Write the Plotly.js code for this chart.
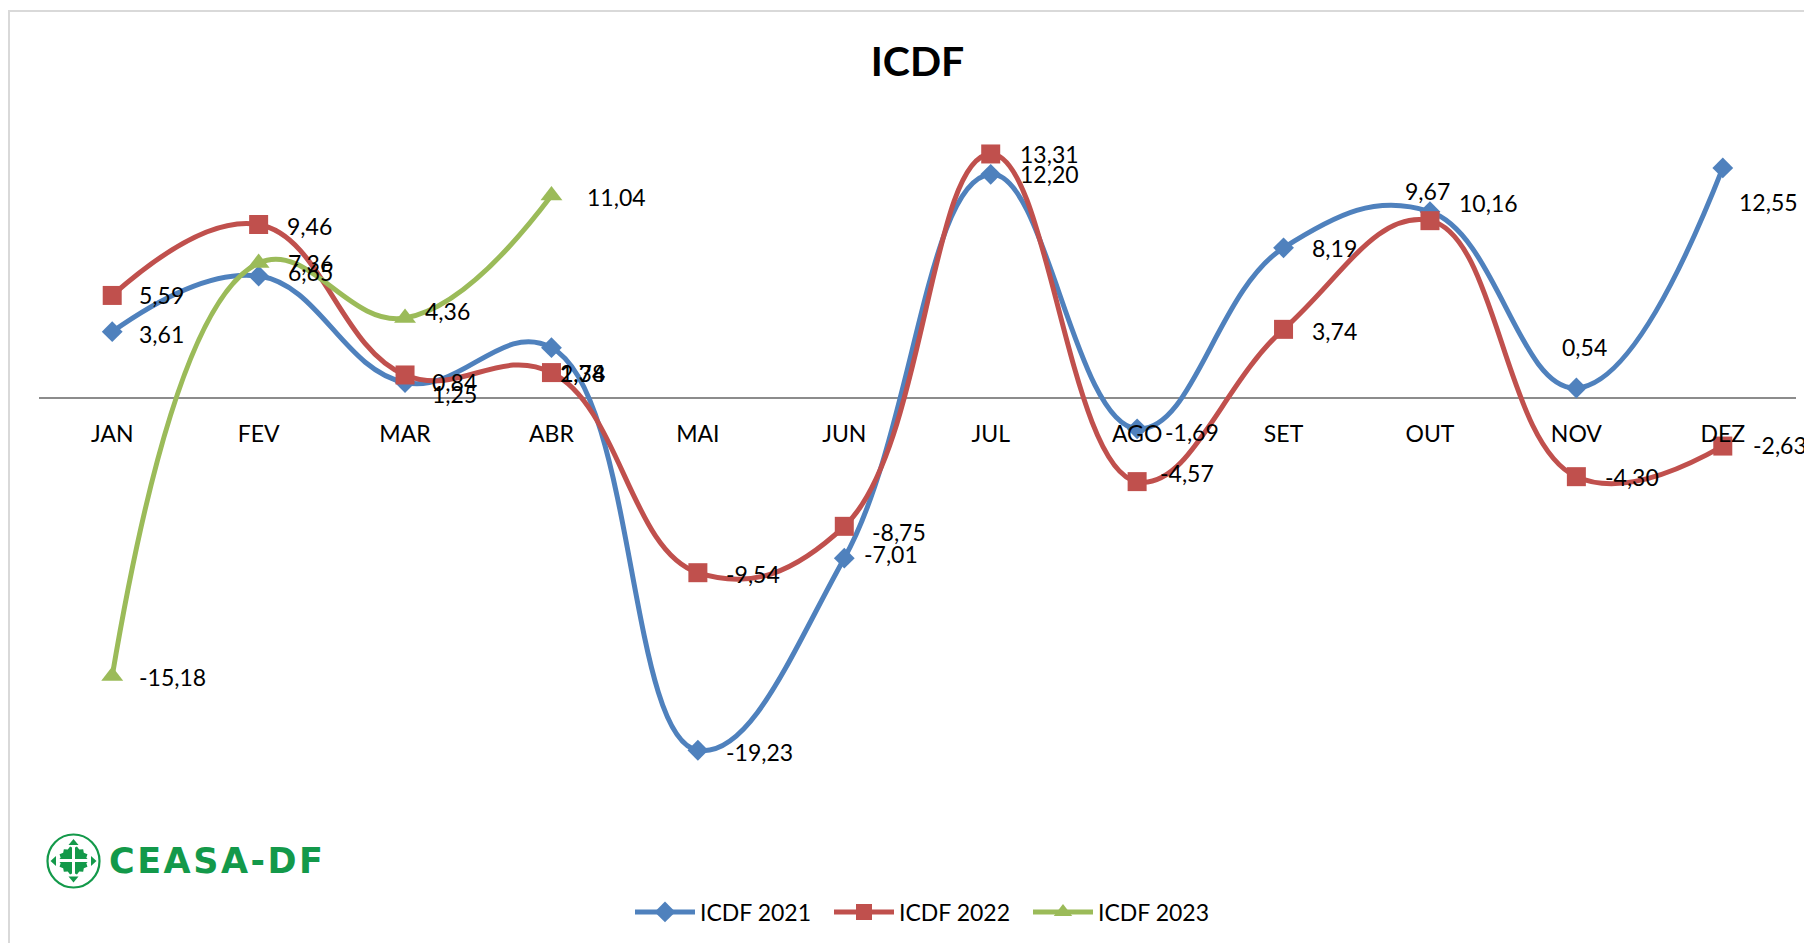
<!DOCTYPE html>
<html>
<head>
<meta charset="utf-8">
<script src="https://cdn.plot.ly/plotly-3.0.1.min.js"></script>
<style>
  html, body { margin: 0; padding: 0; background: #ffffff; }
  #chart { width: 1804px; height: 943px; }
</style>
</head>
<body>
<div id="chart"></div>
<script>
// ---- data ----
const months = ['JAN','FEV','MAR','ABR','MAI','JUN','JUL','AGO','SET','OUT','NOV','DEZ'];
const seriesNames = ['ICDF 2021', 'ICDF 2022', 'ICDF 2023'];
const icdf2021 = [3.61, 6.65, 0.84, 2.74, -19.23, -8.75, 12.20, -1.69, 8.19, 10.16, 0.54, 12.55];
const icdf2022 = [5.59, 9.46, 1.25, 1.38, -9.54, -7.01, 13.31, -4.57, 3.74, 9.67, -4.30, -2.63];
const icdf2023 = [-15.18, 7.36, 4.36, 11.04, null, null, null, null, null, null, null, null];

// ---- label placement (pixel offsets from each point: [right, down]) ----
const offs2021 = [[25,2],[27,-4],[25,0],[7,25],[26,2],[26,-26],[27,0],[26,3],[26,0],[27,-9],[-16,-41],[14,34]];
const offs2022 = [[25,0],[26,1],[25,19],[7,0],[26,1],[18,28],[27,0],[21,-9],[26,2],[-27,-30],[27,0],[28,-1]];
const offs2023 = [[25,1],[27,0],[18,-7],[34,1]];

// ---- styles ----
const colors = ['#4F81BD', '#C0504D', '#9BBB59'];
const symbols = ['diamond', 'square', 'triangle-up'];
const msizes = [16, 19, 19];
const FONT = 'Lato, "Open Sans", "Noto Sans", sans-serif';

const W = 1804, H = 943;
const M = {l: 39, r: 8, t: 123, b: 87};
const yMin = -25, yMax = 15;
const pw = W - M.l - M.r, ph = H - M.t - M.b;
const xp = px => (px - M.l) / pw;
const yp = py => (H - M.b - py) / ph;
const P = (x, y) => xp(x).toFixed(5) + ',' + yp(y).toFixed(5);

const allSeries = [icdf2021, icdf2022, icdf2023];
const allOffs = [offs2021, offs2022, offs2023];

const traces = allSeries.map((vals, k) => ({
  type: 'scatter',
  mode: 'lines+markers',
  name: seriesNames[k],
  x: months,
  y: vals,
  line: {color: colors[k], width: 5, shape: 'spline', smoothing: 1.2},
  marker: {color: colors[k], symbol: symbols[k], size: msizes[k], line: {width: 0}},
  hoverinfo: 'skip',
  connectgaps: false
}));

const fmt = v => v.toFixed(2).replace('.', ',');

const annotations = [];
allSeries.forEach((vals, k) => {
  vals.forEach((v, i) => {
    if (v === null) return;
    const o = allOffs[k][i];
    annotations.push({
      x: months[i], y: v, xref: 'x', yref: 'y',
      text: fmt(v), showarrow: false,
      xanchor: 'left', yanchor: 'middle',
      xshift: o[0], yshift: -o[1],
      font: {family: FONT, size: 23, color: '#000000'}
    });
  });
});

// logo text
annotations.push({
  xref: 'paper', yref: 'paper', x: xp(117), y: yp(861),
  xanchor: 'left', yanchor: 'middle', showarrow: false,
  text: '<b>CEASA-DF</b>',
  font: {family: '"DejaVu Sans", sans-serif', size: 35, color: '#13994A'}
});

// logo shapes
const logoGreen = '#13994A';
const shapes = [];
// chart border
shapes.push({type: 'rect', xref: 'paper', yref: 'paper',
  x0: xp(9), x1: xp(1812), y0: yp(11), y1: yp(955),
  line: {color: '#D9D9D9', width: 2}, fillcolor: 'rgba(0,0,0,0)'});
// ellipse
shapes.push({type: 'circle', xref: 'paper', yref: 'paper',
  x0: xp(47.5), x1: xp(99.5), y0: yp(834.5), y1: yp(887.5),
  line: {color: logoGreen, width: 2.2}, fillcolor: 'rgba(0,0,0,0)'});
// arrows
const tri = (a, b, c) => 'M' + P(a[0], a[1]) + ' L' + P(b[0], b[1]) + ' L' + P(c[0], c[1]) + ' Z';
[
  [[73.5, 839], [68.5, 845], [78.5, 845]],
  [[73.5, 882.5], [68.5, 876.5], [78.5, 876.5]],
  [[50.5, 861], [56, 856], [56, 866]],
  [[96.5, 861], [91, 856], [91, 866]]
].forEach(t => shapes.push({type: 'path', xref: 'paper', yref: 'paper', path: tri(t[0], t[1], t[2]),
  fillcolor: logoGreen, line: {width: 0}}));
// jagged central blob
(function () {
  const cx = 73.5, cy = 860.5, n = 28;
  let d = '';
  for (let i = 0; i < n; i++) {
    const a = (i / n) * 2 * Math.PI;
    const r = (i % 2 === 0) ? 15.5 : 13.2;
    const x = cx + r * Math.cos(a), y = cy + r * 0.93 * Math.sin(a);
    d += (i === 0 ? 'M' : ' L') + P(x, y);
  }
  d += ' Z';
  shapes.push({type: 'path', xref: 'paper', yref: 'paper', path: d, fillcolor: logoGreen, line: {width: 0}});
})();
// white cross
shapes.push({type: 'rect', xref: 'paper', yref: 'paper', x0: xp(72), x1: xp(75), y0: yp(845), y1: yp(876),
  fillcolor: '#ffffff', line: {width: 0}});
shapes.push({type: 'rect', xref: 'paper', yref: 'paper', x0: xp(57), x1: xp(90), y0: yp(859), y1: yp(862),
  fillcolor: '#ffffff', line: {width: 0}});

const layout = {
  width: W, height: H,
  margin: M,
  paper_bgcolor: '#ffffff', plot_bgcolor: '#ffffff',
  font: {family: FONT, color: '#000000'},
  title: {
    text: '<b>ICDF</b>',
    font: {family: FONT, size: 41, color: '#000000'},
    x: 0.5, xref: 'paper', xanchor: 'center',
    y: 1 - 62 / H, yref: 'container', yanchor: 'middle'
  },
  xaxis: {
    type: 'category', range: [-0.5, 11.5],
    anchor: 'free', position: (0 - yMin) / (yMax - yMin),
    showline: false, showgrid: false, zeroline: false,
    ticks: 'outside', ticklen: 16, tickcolor: 'rgba(0,0,0,0)',
    tickfont: {family: FONT, size: 23, color: '#000000'},
    fixedrange: true
  },
  yaxis: {
    range: [yMin, yMax],
    showgrid: false, showline: false, showticklabels: false, ticks: '',
    zeroline: true, zerolinecolor: '#8C8C8C', zerolinewidth: 1.5,
    fixedrange: true
  },
  showlegend: true,
  legend: {
    orientation: 'h', x: xp(630), xanchor: 'left',
    y: yp(912), yanchor: 'middle',
    itemwidth: 60,
    entrywidth: 124, entrywidthmode: 'pixels',
    font: {family: FONT, size: 23, color: '#000000'},
    bgcolor: 'rgba(0,0,0,0)'
  },
  annotations: annotations,
  shapes: shapes
};

Plotly.newPlot('chart', traces, layout, {staticPlot: true, displayModeBar: false}).then(() => {
  document.querySelectorAll('.annotation-text').forEach(el => {
    if (el.textContent === 'CEASA-DF') el.style.letterSpacing = '2.5px';
  });
});
</script>
</body>
</html>
